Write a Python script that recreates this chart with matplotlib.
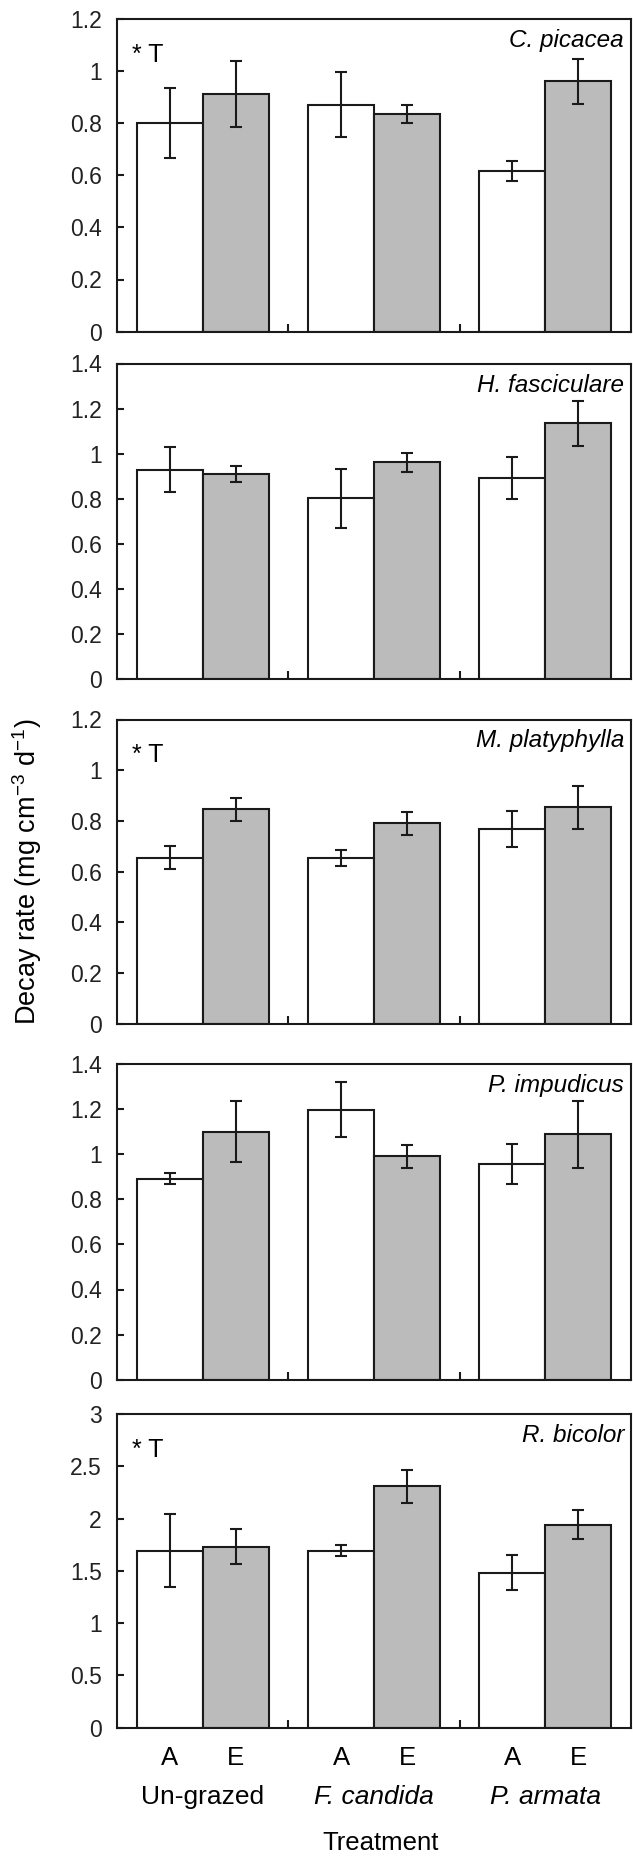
import matplotlib
matplotlib.use("Agg")
import matplotlib.pyplot as plt
from matplotlib.ticker import FuncFormatter

plt.rcParams['font.family'] = ['Liberation Sans', 'DejaVu Sans']
plt.rcParams['mathtext.fontset'] = 'custom'
plt.rcParams['mathtext.rm'] = 'Liberation Sans'
plt.rcParams['mathtext.it'] = 'Liberation Sans:italic'

# data
species = ["C. picacea", "H. fasciculare", "M. platyphylla", "P. impudicus", "R. bicolor"]
treatments = ["Un-grazed", "F. candida", "P. armata"]
treatment_italic = [False, True, True]
bar_letters = ["A", "E"]

cp_a = [0.800, 0.870, 0.615]
cp_a_err = [0.134, 0.124, 0.039]
cp_e = [0.911, 0.833, 0.959]
cp_e_err = [0.128, 0.035, 0.086]

hf_a = [0.928, 0.802, 0.892]
hf_a_err = [0.100, 0.131, 0.095]
hf_e = [0.910, 0.962, 1.134]
hf_e_err = [0.036, 0.042, 0.100]

mp_a = [0.655, 0.655, 0.768]
mp_a_err = [0.045, 0.032, 0.072]
mp_e = [0.846, 0.790, 0.853]
mp_e_err = [0.045, 0.046, 0.083]

pi_a = [0.892, 1.198, 0.956]
pi_a_err = [0.026, 0.122, 0.089]
pi_e = [1.100, 0.990, 1.088]
pi_e_err = [0.135, 0.053, 0.148]

rb_a = [1.692, 1.692, 1.481]
rb_a_err = [0.350, 0.051, 0.166]
rb_e = [1.730, 2.308, 1.941]
rb_e_err = [0.166, 0.157, 0.137]

y_max = [1.2, 1.4, 1.2, 1.4, 3.0]
y_step = [0.2, 0.2, 0.2, 0.2, 0.5]
treatment_effect = [True, False, True, False, True]

panels = [
    (cp_a, cp_a_err, cp_e, cp_e_err),
    (hf_a, hf_a_err, hf_e, hf_e_err),
    (mp_a, mp_a_err, mp_e, mp_e_err),
    (pi_a, pi_a_err, pi_e, pi_e_err),
    (rb_a, rb_a_err, rb_e, rb_e_err),
]

# layout in pixels
W, H = 633, 1857
left_px, right_px = 117, 631
tops_px = [18.5, 363.5, 719.5, 1064, 1414]
bottoms_px = [331.7, 679, 1023.7, 1379.7, 1727.7]

fig = plt.figure(figsize=(W / 100, H / 100), dpi=100)

edge = '#1a1a1a'
lw = 1.5
width = 0.385
xs = list(range(len(treatments)))

axes = []
for i, (a, a_err, e, e_err) in enumerate(panels):
    rect = [left_px / W, 1 - bottoms_px[i] / H,
            (right_px - left_px) / W, (bottoms_px[i] - tops_px[i]) / H]
    ax = fig.add_axes(rect)
    axes.append(ax)

    xa = [x - width / 2 for x in xs]
    xe = [x + width / 2 for x in xs]
    ax.bar(xa, a, width=width, color='white', edgecolor=edge, linewidth=lw, zorder=2)
    ax.bar(xe, e, width=width, color='#bbbbbb', edgecolor=edge, linewidth=lw, zorder=2)
    ax.errorbar(xa, a, yerr=a_err, fmt='none', ecolor=edge, elinewidth=lw,
                capsize=4, capthick=lw, zorder=3)
    ax.errorbar(xe, e, yerr=e_err, fmt='none', ecolor=edge, elinewidth=lw,
                capsize=4, capthick=lw, zorder=3)

    ax.set_xlim(-0.5, 2.5)
    ax.set_ylim(0, y_max[i])
    n = int(round(y_max[i] / y_step[i]))
    ax.set_yticks([k * y_step[i] for k in range(n + 1)])
    ax.yaxis.set_major_formatter(FuncFormatter(lambda v, p: f"{v:g}"))
    ax.tick_params(axis='y', direction='in', length=5, width=lw, color=edge,
                   labelsize=16.5, pad=11, labelcolor='#222222')
    ax.set_xticks([0.5, 1.5])
    ax.set_xticklabels([])
    ax.tick_params(axis='x', direction='in', length=6, width=lw, color=edge)
    for s in ax.spines.values():
        s.set_linewidth(lw)
        s.set_color(edge)

    ax.annotate(species[i], xy=(1, 1), xycoords='axes fraction',
                xytext=(-7, -10), textcoords='offset pixels',
                ha='right', va='top', fontsize=17.5, style='italic')
    if treatment_effect[i]:
        ax.annotate("* T", xy=(0, 1), xycoords='axes fraction',
                    xytext=(15, -24), textcoords='offset pixels',
                    ha='left', va='top', fontsize=18)

# bottom labels
ax = axes[-1]
for j, x in enumerate(xs):
    for k, lab in enumerate(bar_letters):
        xp = x - width / 2 if k == 0 else x + width / 2
        ax.annotate(lab, xy=(xp, 0), xycoords=('data', 'axes fraction'),
                    xytext=(0, -30), textcoords='offset pixels',
                    ha='center', va='center', fontsize=18.5)
    ax.annotate(treatments[j], xy=(x, 0), xycoords=('data', 'axes fraction'),
                xytext=(0, -69), textcoords='offset pixels',
                ha='center', va='center', fontsize=19,
                style='italic' if treatment_italic[j] else 'normal')

fig.text(381 / W, 1 - 1843 / H, "Treatment", ha='center', va='center', fontsize=18.5)
fig.text(27 / W, 1 - 872 / H, r"Decay rate (mg cm$^{-3}$ d$^{-1}$)",
         ha='center', va='center', rotation=90, fontsize=19.5)

fig.savefig("out.png", dpi=100)
